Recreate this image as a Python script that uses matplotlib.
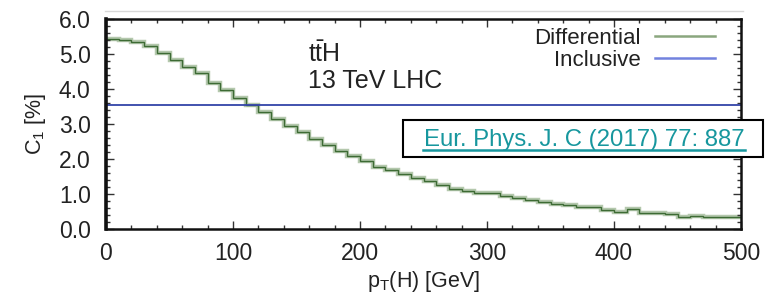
import matplotlib
matplotlib.use("Agg")
import matplotlib.pyplot as plt
from matplotlib.ticker import MultipleLocator, FormatStrFormatter
from matplotlib.lines import Line2D

plt.rcParams['font.family'] = ['Liberation Sans', 'DejaVu Sans']
plt.rcParams['mathtext.fontset'] = 'custom'
plt.rcParams['mathtext.rm'] = 'Liberation Sans'
plt.rcParams['mathtext.it'] = 'Liberation Sans'

# --- data: C1 [%] in 10 GeV bins of pT(H) ---
bin_edges = list(range(0, 510, 10))
c1_diff = [5.43, 5.40, 5.35, 5.23, 5.04, 4.83, 4.64, 4.45, 4.18, 3.96,
           3.75, 3.54, 3.33, 3.15, 2.95, 2.77, 2.56, 2.40, 2.22, 2.10,
           1.93, 1.77, 1.68, 1.58, 1.46, 1.36, 1.27, 1.15, 1.09, 1.04,
           1.02, 0.93, 0.88, 0.83, 0.77, 0.71, 0.69, 0.62, 0.64, 0.53,
           0.50, 0.57, 0.45, 0.47, 0.43, 0.33, 0.38, 0.35, 0.33, 0.33]
c1_incl = 3.55
x_ticks = [0, 100, 200, 300, 400, 500]
y_ticks = [0.0, 1.0, 2.0, 3.0, 4.0, 5.0, 6.0]

W, H = 766, 295
fig = plt.figure(figsize=(W / 100, H / 100), dpi=100)
ax = fig.add_axes([106 / W, 1 - 229 / H, 635 / W, 210 / H])

txt = "#222222"
ax.stairs(c1_diff, bin_edges, color="#b4c8ad", lw=3.2, baseline=None)
ax.stairs(c1_diff, bin_edges, color="#3d6b34", lw=1.0, baseline=None)
ax.axhline(c1_incl, color="#3344a8", lw=1.3)

ax.set_xlim(0, 500)
ax.set_ylim(0, 6)
ax.set_xticks(x_ticks)
ax.set_yticks(y_ticks)
ax.yaxis.set_major_formatter(FormatStrFormatter("%.1f"))
ax.xaxis.set_minor_locator(MultipleLocator(20))
ax.yaxis.set_minor_locator(MultipleLocator(0.2))
ax.tick_params(which="both", direction="in", top=True, right=True, colors="#333333",
               labelcolor=txt, labelsize=16.5)
ax.tick_params(which="major", length=6, width=1)
ax.tick_params(which="minor", length=3, width=1)
ax.tick_params(axis="x", pad=9)
ax.tick_params(axis="y", pad=11)
for s in ax.spines.values():
    s.set_linewidth(1.8)
    s.set_color("#111111")
ax.spines["left"].set_linewidth(2.6)

ax.set_xlabel(r"p$_{\rm T}$(H) [GeV]", fontsize=15.5, color=txt, labelpad=3)
ax.set_ylabel(r"C$_1$ [%]", fontsize=15.5, color=txt, labelpad=8)

# process labels
ax.text(308 / W, 1 - 62 / H, r"t$\bar{\rm t}$H", transform=fig.transFigure, fontsize=18, color=txt)
ax.text(308 / W, 1 - 88 / H, "13 TeV LHC", transform=fig.transFigure, fontsize=18, color=txt)

# legend (gnuplot style: text right, sample on the right)
ax.text(641 / W, 1 - 44 / H, "Differential", transform=fig.transFigure, fontsize=16,
        color=txt, ha="right")
ax.text(641 / W, 1 - 66 / H, "Inclusive", transform=fig.transFigure, fontsize=16,
        color=txt, ha="right")
fig.add_artist(Line2D([655 / W, 715 / W], [1 - 36 / H] * 2, color="#8aa67e", lw=1.8))
fig.add_artist(Line2D([655 / W, 715 / W], [1 - 58 / H] * 2, color="#7282de", lw=1.8))

# faint line across the top (cropped figure edge)
fig.add_artist(Line2D([105 / W, 743 / W], [1 - 10.5 / H] * 2, color="#d8d8d8", lw=1.0))

# reference box
box = plt.Rectangle((403 / W, 1 - 157 / H), 360 / W, 37 / H, transform=fig.transFigure,
                    facecolor="white", edgecolor="black", lw=1.5, zorder=5)
fig.add_artist(box)
fig.text(584 / W, 1 - 146 / H, "Eur. Phys. J. C (2017) 77: 887", fontsize=17.3,
         color="#17979e", ha="center", zorder=6)
fig.add_artist(Line2D([423 / W, 745 / W], [1 - 150 / H] * 2, color="#17979e", lw=1.8, zorder=6))

fig.savefig("out.png", dpi=100)
